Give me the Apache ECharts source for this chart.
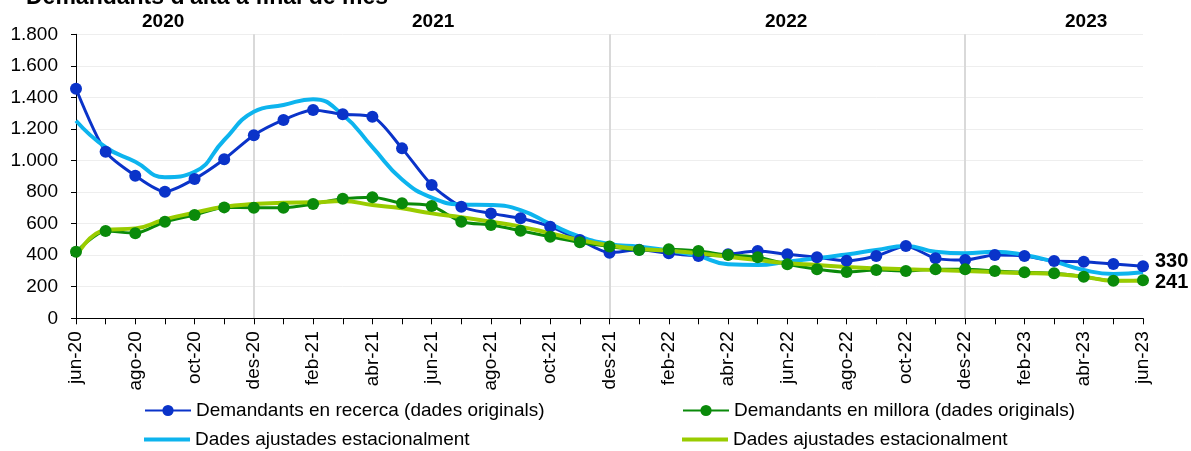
<!DOCTYPE html>
<html>
<head>
<meta charset="utf-8">
<script src="https://cdn.jsdelivr.net/npm/echarts@6/dist/echarts.min.js"></script>
<style>html,body{margin:0;padding:0;background:#fff;}#c{width:1191px;height:451px;}</style>
</head>
<body>
<div id="c"></div>
<script>
const months = ['jun-20','jul-20','ago-20','set-20','oct-20','nov-20','des-20','gen-21','feb-21','mar-21','abr-21','mai-21','jun-21','jul-21','ago-21','set-21','oct-21','nov-21','des-21','gen-22','feb-22','mar-22','abr-22','mai-22','jun-22','jul-22','ago-22','set-22','oct-22','nov-22','des-22','gen-23','feb-23','mar-23','abr-23','mai-23','jun-23'];
const recerca = [1455,1056,904,802,883,1008,1160,1257,1320,1293,1278,1077,845,707,665,634,581,496,416,435,412,395,406,426,406,387,365,395,458,380,369,401,395,363,359,344,330];
const millora = [422,553,539,612,655,703,701,701,724,757,767,729,712,612,591,555,517,482,455,433,437,426,401,387,342,311,293,306,300,311,311,300,292,285,264,238,241];
const recercaSA = [1252,1084,992,894,929,1130,1309,1352,1388,1290,1085,880,765,722,718,686,598,517,470,454,430,395,342,338,359,380,405,433,458,422,412,422,401,359,306,281,292];
const milloraSA = [390,560,570,627,669,707,724,733,735,743,718,697,665,640,612,581,539,496,462,439,428,412,390,369,349,338,325,317,311,306,300,292,287,281,264,238,238];
const yTicks = {min:0, max:1800, interval:200};
const yearLabels = ['2020','2021','2022','2023'];
const seriesNames = ['Demandants en recerca (dades originals)','Demandants en millora (dades originals)','Dades ajustades estacionalment','Dades ajustades estacionalment '];
const titleText = "Demandants d'alta a final de mes";
const splitIdx = [6,18,30];

const FONT = 'Liberation Sans, Arial, sans-serif';
const chart = echarts.init(document.getElementById('c'));
const yearX = [142, 412, 765, 1065];

const legendBase = {itemWidth:46, itemHeight:14, textStyle:{fontSize:19, color:'#000', fontFamily:FONT}, selectedMode:false, padding:0};
const legendLine = {itemWidth:46, itemHeight:4, icon:'rect', textStyle:{fontSize:19, color:'#000', fontFamily:FONT}, selectedMode:false, padding:0};

chart.setOption({
  animation:false,
  title:{text:titleText, left:21, top:-19, textStyle:{fontSize:23, fontWeight:'bold', color:'#000', fontFamily:FONT}},
  grid:{left:76, right:48, top:34.3, bottom:132.7, containLabel:false},
  legend:[
    Object.assign({data:[seriesNames[0]], left:144, top:401}, legendBase),
    Object.assign({data:[seriesNames[1]], left:682, top:401}, legendBase),
    Object.assign({data:[seriesNames[2]], left:144, top:430}, legendLine),
    Object.assign({data:[seriesNames[3]], left:682, top:430}, legendLine)
  ],
  graphic: yearLabels.map((t,i)=>({type:'text', left:yearX[i], top:12, style:{text:t, font:'bold 19px '+FONT, fill:'#000'}})),
  xAxis:{
    type:'category', data:months, boundaryGap:false,
    axisLine:{lineStyle:{color:'#000', width:1}},
    axisTick:{show:true, interval:0, length:6, lineStyle:{color:'#000'}},
    axisLabel:{interval:1, rotate:90, fontSize:19, color:'#000', fontFamily:FONT, margin:13},
    splitLine:{show:true, interval:(i)=>splitIdx.indexOf(i)>=0, lineStyle:{color:'#d9d9d9', width:2}}
  },
  yAxis:{
    type:'value', min:yTicks.min, max:yTicks.max, interval:yTicks.interval,
    axisLine:{show:true, lineStyle:{color:'#000', width:1}},
    axisTick:{show:true, length:5, lineStyle:{color:'#000'}},
    axisLabel:{fontSize:19, color:'#000', fontFamily:FONT, margin:18,
      formatter:(v)=>String(v).replace(/\B(?=(\d{3})+(?!\d))/g,'.')},
    splitLine:{show:true, lineStyle:{color:'#eeeeee', width:1}}
  },
  series:[
    {name:seriesNames[0], type:'line', data:recerca, smooth:0.25, symbol:'circle', symbolSize:12,
      lineStyle:{color:'#0a33c9', width:3}, itemStyle:{color:'#0a33c9'},
      endLabel:{show:true, formatter:(p)=>p.value, fontSize:20, fontWeight:'bold', color:'#000', fontFamily:FONT, offset:[4,-5]}},
    {name:seriesNames[1], type:'line', data:millora, smooth:0.25, symbol:'circle', symbolSize:12,
      lineStyle:{color:'#0a8a0a', width:3}, itemStyle:{color:'#0a8a0a'},
      endLabel:{show:true, formatter:(p)=>p.value, fontSize:20, fontWeight:'bold', color:'#000', fontFamily:FONT, offset:[4,2]}},
    {name:seriesNames[2], type:'line', data:recercaSA, smooth:0.5, symbol:'none', showSymbol:false,
      lineStyle:{color:'#0db4ee', width:4}, itemStyle:{color:'#0db4ee'}},
    {name:seriesNames[3], type:'line', data:milloraSA, smooth:0.5, symbol:'none', showSymbol:false,
      lineStyle:{color:'#99cc00', width:4}, itemStyle:{color:'#99cc00'}}
  ]
});
</script>
</body>
</html>
